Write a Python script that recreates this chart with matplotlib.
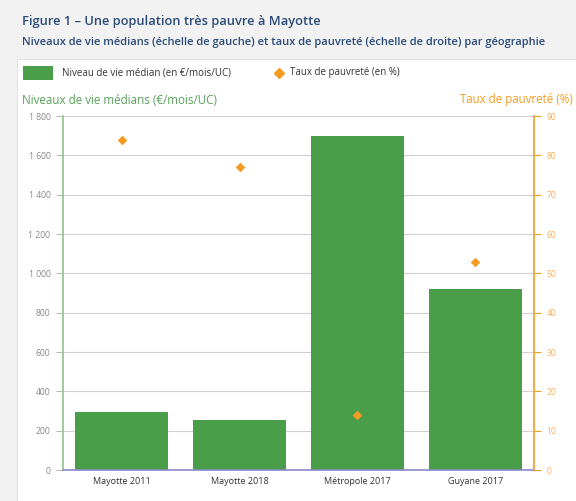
import matplotlib
matplotlib.use("Agg")
import matplotlib.pyplot as plt
from matplotlib.patches import Rectangle
from matplotlib.lines import Line2D

plt.rcParams['font.family'] = ['Open Sans', 'DejaVu Sans']

categories = ["Mayotte 2011", "Mayotte 2018", "Métropole 2017", "Guyane 2017"]
niveau_vie = [295, 255, 1700, 918]
taux_pauvrete = [84, 77, 14, 53]
left_ticks = [0, 200, 400, 600, 800, 1000, 1200, 1400, 1600, 1800]
left_tick_labels = ["0", "200", "400", "600", "800", "1 000", "1 200", "1 400", "1 600", "1 800"]
right_ticks = [0, 10, 20, 30, 40, 50, 60, 70, 80, 90]

GREEN = "#4a9e4a"
ORANGE = "#f59a23"
TITLE = "#2b4b78"

fig = plt.figure(figsize=(5.76, 5.01), dpi=100)
fig.patch.set_facecolor("#f2f2f2")
W, H = 576, 501

def fx(px):
    return px / W

def fy(py):
    return 1 - py / H

# white panel
fig.patches.append(Rectangle((fx(17), -0.01), 1 - fx(17) + 0.01, fy(59) + 0.01, transform=fig.transFigure,
                             facecolor="white", edgecolor="#e2e2e2", lw=0.8, zorder=-5))

fig.text(fx(22), fy(21), "Figure 1 – Une population très pauvre à Mayotte", fontsize=9.3,
         color=TITLE, fontweight="semibold", va="center", ha="left")
fig.text(fx(22), fy(42), "Niveaux de vie médians (échelle de gauche) et taux de pauvreté (échelle de droite) par géographie",
         fontsize=8.0, color=TITLE, fontweight="semibold", va="center", ha="left")

# legend
fig.patches.append(Rectangle((fx(23), fy(80)), fx(30), 14 / H, transform=fig.transFigure,
                             facecolor=GREEN, edgecolor="none", zorder=1))
fig.text(fx(62), fy(73), "Niveau de vie médian (en €/mois/UC)", fontsize=7, color="#333333",
         va="center", ha="left")
fig.lines.append(Line2D([fx(279)], [fy(73)], transform=fig.transFigure, marker="D",
                        markersize=5.5, color=ORANGE, linestyle="none"))
fig.text(fx(290), fy(73), "Taux de pauvreté (en %)", fontsize=7, color="#333333",
         va="center", ha="left")

fig.text(fx(22), fy(100), "Niveaux de vie médians (€/mois/UC)", fontsize=8.4, color="#5aa05a",
         va="center", ha="left")
fig.text(fx(573), fy(100), "Taux de pauvreté (%)", fontsize=8.3, color=ORANGE,
         va="center", ha="right")

ax = fig.add_axes([fx(63), fy(470), fx(534) - fx(63), (470 - 116) / H])
ax.set_facecolor("none")
x = list(range(len(categories)))
ax.bar(x, niveau_vie, width=0.79, color=GREEN, zorder=2)
ax.set_xlim(-0.5, len(categories) - 0.5)
ax.set_ylim(0, 1800)
ax.set_yticks(left_ticks)
ax.set_yticklabels(left_tick_labels)
ax.set_xticks(x)
ax.set_xticklabels(categories)
ax.grid(axis="y", color="#d0d0d0", lw=0.8, zorder=0)
ax.set_axisbelow(True)
ax.tick_params(axis="y", labelsize=6.2, colors="#888888", length=5, color="#bbbbbb", pad=4)
ax.tick_params(axis="x", labelsize=6.5, colors="#333333", length=0, pad=5)
ax.spines["top"].set_visible(False)
ax.spines["right"].set_visible(False)
ax.spines["left"].set_color("#8cc48c")
ax.spines["left"].set_linewidth(1.2)
ax.spines["bottom"].set_color("#8a8ac8")
ax.spines["bottom"].set_linewidth(1.2)

ax2 = ax.twinx()
ax2.scatter(x, taux_pauvrete, marker="D", s=24, color=ORANGE, zorder=3, linewidths=0)
ax2.set_ylim(0, 90)
ax2.set_yticks(right_ticks)
ax2.tick_params(axis="y", labelsize=6.2, colors="#f5b060", length=5, color=ORANGE, pad=4)
for s in ["top", "left", "bottom"]:
    ax2.spines[s].set_visible(False)
ax2.spines["right"].set_color(ORANGE)
ax2.spines["right"].set_linewidth(1.2)

fig.savefig("out.png", dpi=100, facecolor=fig.get_facecolor())
